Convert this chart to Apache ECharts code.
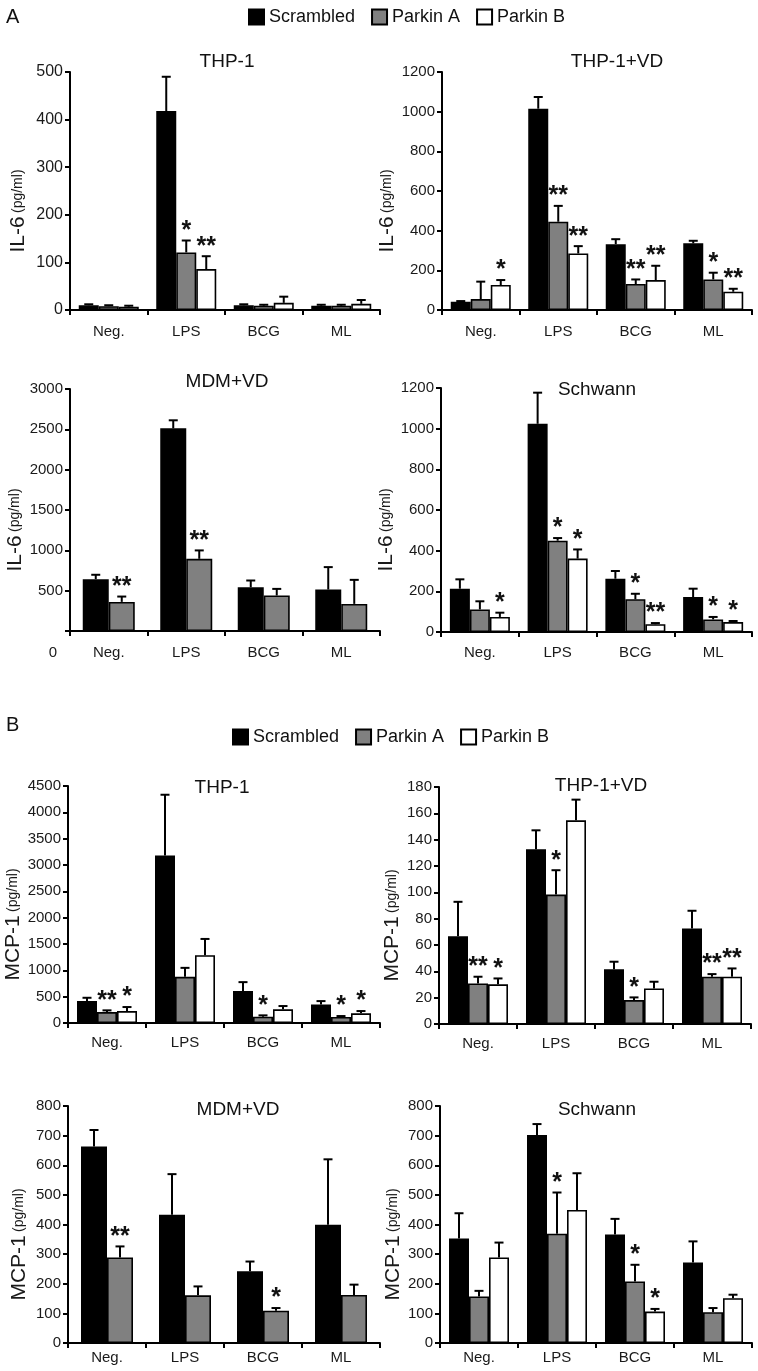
<!DOCTYPE html>
<html><head><meta charset="utf-8">
<script src="https://cdn.jsdelivr.net/npm/echarts@6/dist/echarts.min.js"></script>
<style>html,body{margin:0;padding:0;background:#fff}#c{width:758px;height:1371px}</style>
</head><body><div id="c"></div>
<script>
const categories = ['Neg.', 'LPS', 'BCG', 'ML'];
const groupNames = ['Scrambled', 'Parkin A', 'Parkin B'];

// Panel A: IL-6 — THP-1
const il6Thp1Mean = [[10, 418, 10, 9], [8, 121, 9, 9], [7, 86, 15, 13]];
const il6Thp1Top  = [[12, 490, 12, 11], [10, 146, 11, 11], [9, 113, 28, 21]];
const il6Thp1Sig  = [['', '', '', ''], ['', '*', '', ''], ['', '**', '', '']];
const il6Thp1Ticks = [0, 500, 100];

// Panel A: IL-6 — THP-1+VD
const il6Thp1vdMean = [[42, 1015, 332, 336], [55, 445, 131, 154], [126, 285, 151, 92]];
const il6Thp1vdTop  = [[45, 1074, 357, 349], [143, 525, 154, 188], [151, 322, 223, 107]];
const il6Thp1vdSig  = [['', '', '', ''], ['', '**', '**', '*'], ['*', '**', '**', '**']];
const il6Thp1vdTicks = [0, 1200, 200];

// Panel A: IL-6 — MDM+VD (two groups)
const il6MdmMean = [[643, 2512, 543, 514], [361, 895, 440, 336]];
const il6MdmTop  = [[697, 2612, 626, 792], [427, 999, 522, 634]];
const il6MdmSig  = [['', '', '', ''], ['**', '**', '', '']];
const il6MdmTicks = [0, 3000, 500];

// Panel A: IL-6 — Schwann
const il6SchMean = [[213, 1024, 262, 172], [111, 449, 161, 62], [74, 361, 38, 49]];
const il6SchTop  = [[259, 1177, 300, 213], [151, 462, 188, 74], [95, 406, 44, 54]];
const il6SchSig  = [['', '', '', ''], ['', '*', '*', '*'], ['*', '*', '**', '*']];
const il6SchTicks = [0, 1200, 200];

// Panel B: MCP-1 — THP-1
const mcpThp1Mean = [[416, 3180, 606, 353], [208, 877, 120, 114], [227, 1287, 259, 183]];
const mcpThp1Top  = [[479, 4334, 776, 416], [240, 1047, 145, 132], [303, 1596, 322, 227]];
const mcpThp1Sig  = [['', '', '', ''], ['**', '', '*', '*'], ['*', '', '', '*']];
const mcpThp1Ticks = [0, 4500, 500];

// Panel B: MCP-1 — THP-1+VD
const mcpThp1vdMean = [[66.7, 132.7, 41.5, 72.6], [30.8, 98.3, 18.2, 35.9], [30.1, 154.7, 27, 35.9]];
const mcpThp1vdTop  = [[92.8, 147.1, 47.3, 86], [35.9, 116.8, 20.2, 37.9], [34.6, 170.4, 32.1, 42.2]];
const mcpThp1vdSig  = [['', '', '', ''], ['**', '*', '*', '**'], ['*', '', '', '**']];
const mcpThp1vdTicks = [0, 180, 20];

// Panel B: MCP-1 — MDM+VD (two groups)
const mcpMdmMean = [[663, 433, 242, 399], [289, 161, 109, 162]];
const mcpMdmTop  = [[719, 570, 275, 620], [326, 191, 118, 197]];
const mcpMdmSig  = [['', '', '', ''], ['**', '', '*', '']];
const mcpMdmTicks = [0, 800, 100];

// Panel B: MCP-1 — Schwann
const mcpSchMean = [[353, 702, 366, 272], [157, 369, 208, 104], [289, 449, 106, 151]];
const mcpSchTop  = [[438, 739, 419, 343], [176, 508, 264, 118], [339, 573, 115, 163]];
const mcpSchSig  = [['', '', '', ''], ['', '*', '*', ''], ['', '', '*', '']];
const mcpSchTicks = [0, 800, 100];

const FONT = '"Liberation Sans", Arial, sans-serif';
const fills = ['#000000', '#808080', '#ffffff'];

const panels = [
  {title: 'THP-1', tx: 227, ty: 62, yname: 'IL-6', mean: il6Thp1Mean, top: il6Thp1Top, sig: il6Thp1Sig, ticks: il6Thp1Ticks,
   grid: {left: 70, top: 72, width: 310, height: 238}, nameGap: 41, labelSize: 16, xMargin: 14},
  {title: 'THP-1+VD', tx: 617, ty: 62, yname: 'IL-6', mean: il6Thp1vdMean, top: il6Thp1vdTop, sig: il6Thp1vdSig, ticks: il6Thp1vdTicks,
   grid: {left: 442, top: 72, width: 310, height: 238}, nameGap: 33, labelSize: 15, xMargin: 14},
  {title: 'MDM+VD', tx: 227, ty: 382, yname: 'IL-6', mean: il6MdmMean, top: il6MdmTop, sig: il6MdmSig, ticks: il6MdmTicks,
   grid: {left: 70, top: 389, width: 310, height: 242}, nameGap: 41, labelSize: 15, xMargin: 14, hideZero: true},
  {title: 'Schwann', tx: 597, ty: 390, yname: 'IL-6', mean: il6SchMean, top: il6SchTop, sig: il6SchSig, ticks: il6SchTicks,
   grid: {left: 441, top: 388, width: 311, height: 244}, nameGap: 34, labelSize: 15, xMargin: 13},
  {title: 'THP-1', tx: 222, ty: 788, yname: 'MCP-1', mean: mcpThp1Mean, top: mcpThp1Top, sig: mcpThp1Sig, ticks: mcpThp1Ticks,
   grid: {left: 68, top: 786, width: 312, height: 237}, nameGap: 38, labelSize: 15, xMargin: 12},
  {title: 'THP-1+VD', tx: 601, ty: 786, yname: 'MCP-1', mean: mcpThp1vdMean, top: mcpThp1vdTop, sig: mcpThp1vdSig, ticks: mcpThp1vdTicks,
   grid: {left: 439, top: 787, width: 312, height: 237}, nameGap: 33, labelSize: 15, xMargin: 12},
  {title: 'MDM+VD', tx: 238, ty: 1110, yname: 'MCP-1', mean: mcpMdmMean, top: mcpMdmTop, sig: mcpMdmSig, ticks: mcpMdmTicks,
   grid: {left: 68, top: 1106, width: 312, height: 237}, nameGap: 38, labelSize: 15, xMargin: 7},
  {title: 'Schwann', tx: 597, ty: 1110, yname: 'MCP-1', mean: mcpSchMean, top: mcpSchTop, sig: mcpSchSig, ticks: mcpSchTicks,
   grid: {left: 440, top: 1106, width: 312, height: 237}, nameGap: 34, labelSize: 15, xMargin: 7}
];

const grids = [], xAxes = [], yAxes = [], series = [], graphics = [];

panels.forEach((p, pi) => {
  const n = p.mean.length;
  const barW = n === 3 ? 20 : 26;
  grids.push(Object.assign({containLabel: false, outerBoundsMode: 'none'}, p.grid));
  xAxes.push({
    type: 'category', gridIndex: pi, data: categories,
    axisLine: {lineStyle: {color: '#000', width: 2}},
    axisTick: {show: true, length: 5, lineStyle: {color: '#000', width: 2}},
    axisLabel: {fontFamily: FONT, fontSize: 15, color: '#1a1a1a', margin: p.xMargin}
  });
  yAxes.push({
    type: 'value', gridIndex: pi, min: p.ticks[0], max: p.ticks[1], interval: p.ticks[2],
    axisLine: {show: true, lineStyle: {color: '#000', width: 2}},
    axisTick: {show: true, length: 5, lineStyle: {color: '#000', width: 2}},
    splitLine: {show: false},
    axisLabel: {fontFamily: FONT, fontSize: p.labelSize, color: '#1a1a1a', margin: 7,
      formatter: v => (p.hideZero && v === 0) ? '' : String(v)},
    name: '{a|' + p.yname + '} {b|(pg/ml)}',
    nameLocation: 'middle', nameGap: p.nameGap,
    nameTextStyle: {padding: [0, 40, 0, 0],
      rich: {a: {fontFamily: FONT, fontSize: 21, color: '#1a1a1a'}, b: {fontFamily: FONT, fontSize: 14, color: '#1a1a1a'}}}
  });
  for (let s = 0; s < n; s++) {
    series.push({
      type: 'bar', name: groupNames[s], xAxisIndex: pi, yAxisIndex: pi,
      data: p.mean[s], barWidth: barW, barGap: '0%',
      itemStyle: {color: fills[s], borderColor: '#000', borderWidth: 1.6},
      emphasis: {disabled: true}, z: 2
    });
  }
  const errData = [];
  for (let s = 0; s < n; s++) for (let c = 0; c < categories.length; c++) {
    errData.push([c, s, p.mean[s][c], p.top[s][c]]);
  }
  series.push({
    type: 'custom', name: 'err' + pi, xAxisIndex: pi, yAxisIndex: pi, z: 5, clip: false,
    encode: {x: 0, y: 3}, data: errData,
    renderItem: (params, api) => {
      const c = api.value(0), s = api.value(1), v = api.value(2), t = api.value(3);
      const b = api.coord([c, v]);
      const tp = api.coord([c, t]);
      const x = b[0] + (s - (n - 1) / 2) * barW;
      const ch = [];
      if (t > v) {
        ch.push({type: 'line', shape: {x1: x, y1: b[1], x2: x, y2: tp[1]}, style: {stroke: '#000', lineWidth: 2}});
        ch.push({type: 'line', shape: {x1: x - 4.5, y1: tp[1], x2: x + 4.5, y2: tp[1]}, style: {stroke: '#000', lineWidth: 2}});
      }
      const sg = p.sig[s][c];
      if (sg) ch.push({type: 'text', style: {text: sg, x: x, y: tp[1] + 3, fill: '#111',
        font: 'bold 25px ' + FONT, align: 'center', verticalAlign: 'bottom'}});
      return {type: 'group', children: ch};
    }
  });
  graphics.push({type: 'text', x: p.tx, y: p.ty, style: {text: p.title, fill: '#111',
    font: '19px ' + FONT, align: 'center', verticalAlign: 'middle'}});
});

graphics.push({type: 'text', x: 6, y: 17, style: {text: 'A', fill: '#111', font: '20px ' + FONT, verticalAlign: 'middle'}});
graphics.push({type: 'text', x: 6, y: 725, style: {text: 'B', fill: '#111', font: '20px ' + FONT, verticalAlign: 'middle'}});
graphics.push({type: 'text', x: 53, y: 653, style: {text: '0', fill: '#1a1a1a', font: '15px ' + FONT, align: 'center', verticalAlign: 'middle'}});

const legendData = groupNames.map((nm, i) => ({name: nm, itemStyle: {color: fills[i], borderColor: '#000', borderWidth: 2}}));
const legendBase = {
  data: legendData, selectedMode: false, icon: 'rect', itemWidth: 15, itemHeight: 15, itemGap: 16, padding: 0,
  textStyle: {fontFamily: FONT, fontSize: 18, color: '#111'}
};

const chart = echarts.init(document.getElementById('c'), null, {renderer: 'canvas'});
chart.setOption({
  animation: false,
  backgroundColor: '#fff',
  grid: grids, xAxis: xAxes, yAxis: yAxes, series: series,
  legend: [Object.assign({left: 248, top: 8}, legendBase), Object.assign({left: 232, top: 728}, legendBase)],
  graphic: graphics
});
</script></body></html>
